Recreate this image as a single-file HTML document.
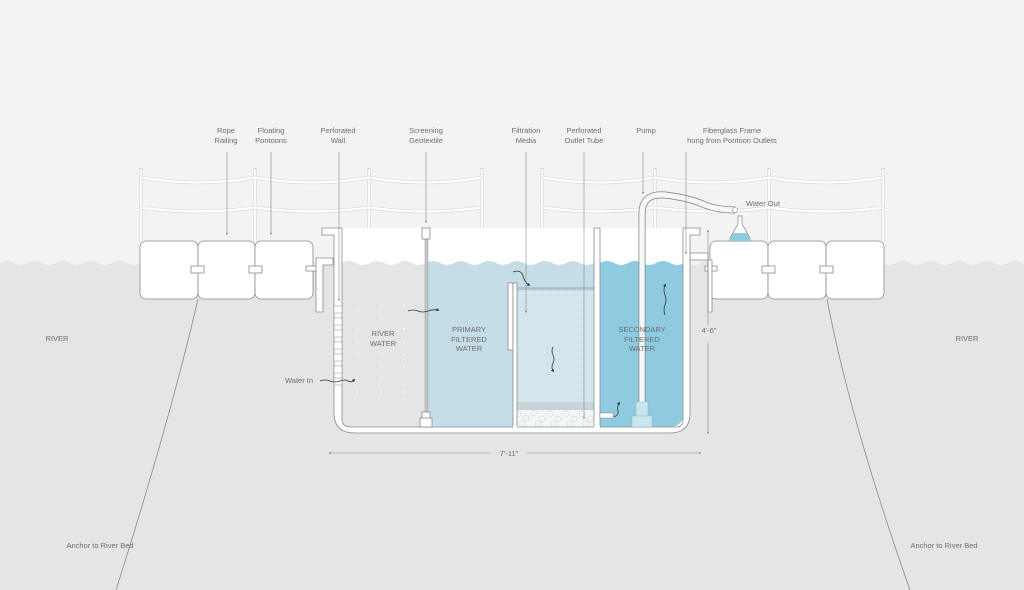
<!DOCTYPE html>
<html><head><meta charset="utf-8"><style>
html,body{margin:0;padding:0;background:#f3f3f3}
svg{display:block}
text{font-family:"Liberation Sans",sans-serif;font-size:7.5px;fill:#6d6d6d}
.s{stroke:#8a8a8a;stroke-width:0.8;fill:none}
.w{fill:#fff;stroke:#8a8a8a;stroke-width:0.8}
.r{stroke:#fff;stroke-width:2.2;fill:none}
.rl{stroke:#d2d2d2;stroke-width:0.6;fill:none}
.a{stroke:#888;stroke-width:0.6;fill:none}
.ar{stroke:#333;stroke-width:0.8;fill:none}
</style></head><body>
<svg width="1024" height="590" viewBox="0 0 1024 590" xmlns="http://www.w3.org/2000/svg">
<defs>
<marker id="m" markerWidth="4" markerHeight="4" refX="2" refY="2" orient="auto"><path d="M0,0L4,2L0,4z" fill="#888"/></marker>
<marker id="k" markerWidth="4" markerHeight="4" refX="2" refY="2" orient="auto"><path d="M0,0L4,2L0,4z" fill="#333"/></marker>
<pattern id="dots" width="4" height="4" patternUnits="userSpaceOnUse"><circle cx="1" cy="1" r="0.5" fill="#fff" opacity="0.7"/><circle cx="3" cy="3" r="0.4" fill="#9bb" opacity="0.4"/></pattern>
</defs>
<rect width="1024" height="590" fill="#f3f3f3"/>
<!-- river -->
<path d="M0,263 q7,-4 14,0 t14,0 t14,0 t14,0 t14,0 t14,0 t14,0 t14,0 t14,0 t14,0 V590 H0z" fill="#e4e5e6"/>
<rect x="0" y="265" width="1024" height="325" fill="#e4e5e6"/>
<path d="M700,263 q7,-4 14,0 t14,0 t14,0 t14,0 t14,0 t14,0 t14,0 t14,0 t14,0 t14,0 t14,0 t14,0 t14,0 t14,0 t14,0 t14,0 t14,0 t14,0 t14,0 t14,0 t14,0 t14,0 t14,0 t14,0 V270 H700z" fill="#e4e5e6"/>
<!-- railings -->
<g>
<path d="M141,168V241M255,168V241M369,168V241M482,168V241M542,168V241M655,168V241M769,168V241M883,168V241" stroke="#d2d2d2" stroke-width="3" fill="none"/>
<path d="M141,169V241M255,169V241M369,169V241M482,169V241M542,169V241M655,169V241M769,169V241M883,169V241" stroke="#fff" stroke-width="1.8" fill="none"/>
<path class="rl" d="M141,176Q198,186 255,176Q312,186 369,176Q425,186 482,176M542,176Q598,186 655,176Q712,186 769,176Q826,186 883,176"/>
<path class="rl" d="M141,206Q198,214 255,206Q312,214 369,206Q425,214 482,206M542,206Q598,214 655,206Q712,214 769,206Q826,214 883,206"/>
<path class="r" d="M141,177.5Q198,187.5 255,177.5Q312,187.5 369,177.5Q425,187.5 482,177.5M542,177.5Q598,187.5 655,177.5Q712,187.5 769,177.5Q826,187.5 883,177.5"/>
<path class="r" d="M141,207.5Q198,215.5 255,207.5Q312,215.5 369,207.5Q425,215.5 482,207.5M542,207.5Q598,215.5 655,207.5Q712,215.5 769,207.5Q826,215.5 883,207.5"/>
<path class="rl" d="M141,179Q198,189 255,179Q312,189 369,179Q425,189 482,179M542,179Q598,189 655,179Q712,189 769,179Q826,189 883,179"/>
<path class="rl" d="M141,209Q198,217 255,209Q312,217 369,209Q425,217 482,209M542,209Q598,217 655,209Q712,217 769,209Q826,217 883,209"/>
</g>
<!-- anchors -->
<path class="s" d="M198,299 Q170,420 116,590"/>
<path class="s" d="M827,299 Q850,420 910,590"/>
<!-- pontoons left -->
<rect class="w" x="140" y="241" width="58" height="58" rx="6"/>
<rect class="w" x="198" y="241" width="57" height="58" rx="6"/>
<rect class="w" x="255" y="241" width="58" height="58" rx="6"/>
<rect class="w" x="191" y="266" width="13" height="7"/>
<rect class="w" x="249" y="266" width="13" height="7"/>
<rect class="w" x="306" y="266" width="13" height="5"/>
<path class="w" d="M316,258H333V265H323V312H316z"/>
<!-- pontoons right -->
<rect class="w" x="710" y="241" width="58" height="58" rx="6"/>
<rect class="w" x="768" y="241" width="58" height="58" rx="6"/>
<rect class="w" x="826" y="241" width="58" height="58" rx="6"/>
<rect class="w" x="762" y="266" width="13" height="7"/>
<rect class="w" x="820" y="266" width="13" height="7"/>
<rect class="w" x="705" y="266" width="12" height="5"/>
<path class="w" d="M690,253H708V260H712V312H708V260H690z"/>
<!-- flask -->
<path d="M738,216H742V224L750,238V241H730V238L738,224z" fill="#fff" stroke="#888" stroke-width="0.7"/>
<path d="M733,233H747L750,238V241H730V238z" fill="#8ecbe1"/>
<!-- tank interior -->
<path d="M342,228H683V420Q683,427 676,427H352Q342,427 342,417z" fill="#fff"/>
<path d="M342,263 q7,-4 14,0 t14,0 t14,0 t14,0 t14,0 t14,0 V427H352Q342,427 342,417z" fill="#e4e5e6"/>
<g fill="#fff" opacity="0.8"><circle cx="357" cy="309" r="1"/><circle cx="381" cy="306" r="1"/><circle cx="404" cy="305" r="1"/><circle cx="357" cy="330" r="1"/><circle cx="404" cy="329" r="1"/><circle cx="357" cy="355" r="1"/><circle cx="381" cy="355" r="1"/><circle cx="404" cy="355" r="1"/><circle cx="357" cy="378" r="1"/><circle cx="381" cy="378" r="1"/><circle cx="357" cy="392" r="1"/><circle cx="381" cy="392" r="1"/><circle cx="404" cy="392" r="1"/><circle cx="381" cy="318" r="1"/><circle cx="357" cy="342" r="1"/><circle cx="404" cy="342" r="1"/><circle cx="381" cy="366" r="1"/><circle cx="404" cy="366" r="1"/></g>
<path d="M426,263 q7,-4 14,0 t14,0 t14,0 t14,0 t14,0 t14,0 t14,0 t14,0 t14,0 t14,0 t14,0 t14,0 V427H426z" fill="#c4dde6"/>
<rect x="513" y="288" width="81" height="139" fill="#d3e5ec"/>
<rect x="513" y="288" width="81" height="139" fill="url(#dots)"/>
<rect x="513" y="287" width="81" height="3" fill="#b0c3ca"/>
<rect x="513" y="402" width="81" height="8" fill="#c8d3d7"/>
<rect x="513" y="410" width="81" height="17" fill="#f3f6f7"/>
<g fill="none" stroke="#c5d0d4" stroke-width="0.5"><circle cx="518" cy="414" r="3"/><circle cx="526" cy="418" r="3"/><circle cx="534" cy="413" r="3"/><circle cx="542" cy="419" r="3"/><circle cx="550" cy="414" r="3"/><circle cx="558" cy="419" r="3"/><circle cx="566" cy="414" r="3"/><circle cx="574" cy="419" r="3"/><circle cx="582" cy="414" r="3"/><circle cx="590" cy="419" r="3"/><circle cx="522" cy="424" r="3"/><circle cx="538" cy="424" r="3"/><circle cx="554" cy="424" r="3"/><circle cx="570" cy="424" r="3"/><circle cx="586" cy="424" r="3"/></g>
<path d="M600,263 q7,-4 14,0 t14,0 t14,0 t14,0 t14,0 t14,0 V413Q683,427 669,427H600z" fill="#8ecbe1"/>
<!-- tank walls -->
<path class="w" d="M322,228H342V420Q342,427 352,427H676Q683,427 683,420V228H700V235H690V413Q690,433 670,433H355Q334,433 334,413V235H322z"/>
<!-- perforated holes left wall -->
<g fill="#fff" stroke="#888" stroke-width="0.5"><rect x="334" y="306" width="8" height="7"/><rect x="334" y="318" width="8" height="7"/><rect x="334" y="330" width="8" height="7"/><rect x="334" y="342" width="8" height="7"/><rect x="334" y="354" width="8" height="7"/><rect x="334" y="366" width="8" height="7"/><rect x="334" y="378" width="8" height="7"/></g>
<rect class="w" x="508" y="283" width="5" height="67"/>
<rect class="w" x="513" y="283" width="4" height="144"/>
<rect class="w" x="594" y="228" width="6" height="199"/>
<rect x="594" y="426" width="6" height="3" fill="#fff"/>
<rect x="513" y="426" width="4" height="3" fill="#fff"/>
<!-- screen -->
<rect x="425" y="235" width="3" height="180" fill="#c7c7c7" stroke="#888" stroke-width="0.4"/>
<rect class="w" x="422" y="228" width="8" height="11"/>
<rect class="w" x="422" y="412" width="8" height="8"/>
<rect class="w" x="420" y="418" width="12" height="9"/>
<!-- pump pipe -->
<path d="M642,408V214Q642,193 665,195Q690,198 705,205Q718,210 735,210" stroke="#888" stroke-width="7" fill="none"/>
<path d="M642,408V214Q642,193 665,195Q690,198 705,205Q718,210 735,210" stroke="#f5f7f8" stroke-width="5.4" fill="none"/>
<circle cx="735" cy="210" r="2.5" fill="#fff" stroke="#888" stroke-width="0.6"/>
<rect x="636" y="402" width="12" height="14" fill="#c9e6ef" stroke="#8ab" stroke-width="0.4"/>
<rect x="632" y="416" width="20" height="11" fill="#c9e6ef" stroke="#8ab" stroke-width="0.4"/>
<rect x="600" y="413" width="13" height="5" fill="#fff" stroke="#888" stroke-width="0.5"/>
<!-- flow arrows -->
<path class="ar" marker-end="url(#k)" d="M320,381q5,-2 10,0t10,0t8,0t6,-1"/>
<path class="ar" marker-end="url(#k)" d="M408,311q5,-2 10,0t10,0t10,-1"/>
<path class="ar" marker-end="url(#k)" d="M513,272q8,-3 10,4t6,9"/>
<path class="ar" marker-end="url(#k)" d="M553,347q-2,4 0,8t0,8t0,8"/>
<path class="ar" marker-end="url(#k)" d="M665,315q-2,-5 0,-10t0,-10t0,-10"/>
<path class="ar" marker-end="url(#k)" d="M614,417q5,-2 4,-6t1,-8"/>
<!-- callouts -->
<g class="a" marker-end="url(#m)">
<path d="M227,152V234"/><path d="M271,152V234"/><path d="M339,152V300"/><path d="M426,152V222"/><path d="M526,152V312"/><path d="M584,152V418"/><path d="M643,152V193"/><path d="M686,152V253"/>
<path d="M490,453H330"/><path d="M527,453H700"/><path d="M708,325V231"/><path d="M708,343V433"/>
</g>
<!-- labels -->
<g text-anchor="middle">
<text x="226" y="133">Rope</text><text x="226" y="143">Railing</text>
<text x="271" y="133">Floating</text><text x="271" y="143">Pontoons</text>
<text x="338" y="133">Perforated</text><text x="338" y="143">Wall</text>
<text x="426" y="133">Screening</text><text x="426" y="143">Geotextile</text>
<text x="526" y="133">Filtration</text><text x="526" y="143">Media</text>
<text x="584" y="133">Perforated</text><text x="584" y="143">Outlet Tube</text>
<text x="646" y="133">Pump</text>
<text x="732" y="133">Fiberglass Frame</text><text x="732" y="143">hung from Pontoon Outlets</text>
<text x="383" y="336">RIVER</text><text x="383" y="346">WATER</text>
<text x="469" y="332">PRIMARY</text><text x="469" y="342">FILTERED</text><text x="469" y="351">WATER</text>
<text x="642" y="332">SECONDARY</text><text x="642" y="342">FILTERED</text><text x="642" y="351">WATER</text>
<text x="509" y="456">7'-11"</text>
<text x="709" y="333">4'-6"</text>
<text x="57" y="341">RIVER</text><text x="967" y="341">RIVER</text>
<text x="100" y="548">Anchor to River Bed</text><text x="944" y="548">Anchor to River Bed</text>
</g>
<text x="285" y="383">Water In</text>
<text x="746" y="206">Water Out</text>
</svg>
</body></html>
